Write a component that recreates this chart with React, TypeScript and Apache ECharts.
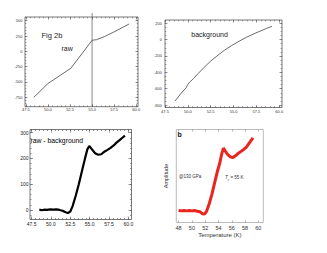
import React, { useEffect, useRef } from "react";
import * as echarts from "echarts";

// ---- data ----
const rawTemp = [48.4, 50.0, 52.6, 55.0, 55.5, 56.4, 57.4, 59.2];
const rawSignal = [-750, -525, -275, 180, 190, 240, 310, 447];
const tcMarker = [55];

const bgTemp = [48.6, 49.2, 49.8, 50.0, 50.2, 50.6, 51.1, 51.7, 52.5, 53.3, 54.0, 54.8, 55.6, 56.4, 57.2, 58.0, 58.6, 59.2];
const bgSignal = [-750, -665, -590, -548, -520, -478, -418, -348, -262, -190, -130, -72, -20, 28, 70, 108, 137, 162];

const diffTemp = [48.5, 48.8, 49.1, 49.5, 49.9, 50.3, 50.7, 51.1, 51.5, 51.9, 52.2, 52.5, 52.8, 53.2, 53.6, 54.0, 54.4, 54.7, 54.95, 55.3, 55.7, 56.1, 56.5, 56.9, 57.3, 57.7, 58.1, 58.5, 58.9, 59.3, 59.55];
const diffSignal = [2, -1, 1, 0, 2, 1, 2, 0, -3, -9, -12, -6, 15, 55, 100, 150, 200, 235, 248, 235, 220, 214, 216, 226, 233, 241, 250, 262, 272, 282, 288];

const ampTemp = [48.0, 48.4, 48.8, 49.2, 49.6, 50.0, 50.4, 50.8, 51.2, 51.6, 51.9, 52.2, 52.6, 53.0, 53.4, 53.8, 54.2, 54.5, 54.75, 55.0, 55.4, 55.8, 56.2, 56.6, 57.0, 57.4, 57.8, 58.2, 58.6, 59.0, 59.2];
const ampSignal = [0.13, 0.125, 0.13, 0.125, 0.13, 0.125, 0.13, 0.12, 0.115, 0.095, 0.09, 0.12, 0.2, 0.3, 0.42, 0.54, 0.64, 0.74, 0.8, 0.77, 0.73, 0.705, 0.7, 0.72, 0.745, 0.765, 0.785, 0.81, 0.85, 0.89, 0.91];

// tick labels
const tempTicksA = [47.5, 50.0, 52.5, 55.0, 57.5, 60.0];
const rawTicks = [-750, -500, -250, 0, 250, 500];
const bgTicks = [-800, -600, -400, -200, 0, 200];
const diffTicks = [0, 100, 200, 300];
const tempTicksB = [48, 50, 52, 54, 56, 58, 60];

const FONT = "'Liberation Sans', Arial, sans-serif";

function steps(a: number, b: number, s: number) {
  const out: number[] = [];
  for (let v = a; v <= b + 1e-9; v += s) out.push(Math.round(v * 1000) / 1000);
  return out;
}

function zip(a: number[], b: number[]) {
  return a.map((v, i) => [v, b[i]]);
}

type AxOpts = {
  min: number;
  max: number;
  major: number[];
  minor: number[];
  labels: boolean;
  fmt: (v: number) => string;
  fs: number;
  margin: number;
  tickColor: string;
  labelColor: string;
  ticks: boolean;
  oppTicks: boolean;
  majLen: number;
  minLen: number;
  extra?: any;
};

function axisSet(kind: "x" | "y", grid: number, o: AxOpts) {
  const isX = kind === "x";
  const base = {
    type: "value",
    gridIndex: grid,
    min: o.min,
    max: o.max,
    splitLine: { show: false },
    axisLine: { show: false, onZero: false },
  };
  const tick = (vals: number[], len: number, show: boolean) => ({
    show,
    inside: true,
    length: len,
    customValues: vals,
    lineStyle: { color: o.tickColor, width: 0.6 },
  });
  const noLabel = { show: false };
  const main = {
    ...base,
    position: isX ? "bottom" : "left",
    axisTick: tick(o.major, o.majLen, o.ticks),
    axisLabel: {
      show: o.labels,
      customValues: o.major,
      formatter: o.fmt,
      fontSize: o.fs,
      margin: o.margin,
      color: o.labelColor,
      fontFamily: FONT,
    },
    ...(o.extra || {}),
  };
  const minorAx = { ...base, position: isX ? "bottom" : "left", axisTick: tick(o.minor, o.minLen, o.ticks && o.minor.length > 0), axisLabel: noLabel };
  const opp = { ...base, position: isX ? "top" : "right", axisTick: tick(o.major, o.majLen, o.oppTicks), axisLabel: noLabel };
  const oppMinor = { ...base, position: isX ? "top" : "right", axisTick: tick(o.minor, o.minLen, o.oppTicks && o.minor.length > 0), axisLabel: noLabel };
  return [main, minorAx, opp, oppMinor];
}

export default function App() {
  const ref = useRef<HTMLDivElement>(null);
  useEffect(() => {
    if (!ref.current) return;
    const chart = echarts.init(ref.current, null, { renderer: "svg" });
    const dark = "#555";
    const fmt1 = (v: number) => v.toFixed(1);
    const fmt0 = (v: number) => String(Math.round(v));

    const xAxes = [
      ...axisSet("x", 0, { min: 47.4, max: 60.2, major: tempTicksA, minor: steps(47.5, 60, 0.5), labels: true, fmt: fmt1, fs: 4, margin: 1, tickColor: dark, labelColor: "#333", ticks: true, oppTicks: true, majLen: 2.5, minLen: 1.3 }),
      ...axisSet("x", 1, { min: 47.5, max: 60.3, major: tempTicksA, minor: steps(47.5, 60, 0.5), labels: true, fmt: fmt1, fs: 4, margin: 2, tickColor: dark, labelColor: "#333", ticks: true, oppTicks: true, majLen: 2.5, minLen: 1.3 }),
      ...axisSet("x", 2, { min: 47.3, max: 60.4, major: tempTicksA, minor: steps(47.5, 60, 0.5), labels: true, fmt: fmt1, fs: 5, margin: 2, tickColor: dark, labelColor: "#222", ticks: true, oppTicks: true, majLen: 3, minLen: 1.5 }),
      ...axisSet("x", 3, {
        min: 47.65, max: 60.75, major: tempTicksB, minor: [], labels: true, fmt: fmt0, fs: 5.5, margin: 2, tickColor: "#888", labelColor: "#333", ticks: true, oppTicks: true, majLen: 2, minLen: 1,
        extra: { name: "Temperature (K)", nameLocation: "middle", nameGap: 9, nameTextStyle: { fontSize: 6, fontFamily: FONT, color: "#333" } },
      }),
    ];
    const yAxes = [
      ...axisSet("y", 0, { min: -903, max: 560, major: rawTicks, minor: steps(-900, 550, 50), labels: true, fmt: fmt0, fs: 4, margin: 2.5, tickColor: dark, labelColor: "#333", ticks: true, oppTicks: true, majLen: 2.5, minLen: 1.3 }),
      ...axisSet("y", 1, { min: -830, max: 240, major: bgTicks, minor: steps(-800, 200, 50), labels: true, fmt: fmt0, fs: 4, margin: 3, tickColor: dark, labelColor: "#333", ticks: true, oppTicks: true, majLen: 2.5, minLen: 1.3 }),
      ...axisSet("y", 2, { min: -37, max: 312, major: diffTicks, minor: steps(-20, 300, 20), labels: true, fmt: fmt0, fs: 5, margin: 1.5, tickColor: dark, labelColor: "#222", ticks: true, oppTicks: true, majLen: 3, minLen: 1.5 }),
      ...axisSet("y", 3, {
        min: 0, max: 1, major: [], minor: [], labels: false, fmt: fmt0, fs: 5, margin: 2, tickColor: "#888", labelColor: "#333", ticks: false, oppTicks: false, majLen: 2, minLen: 1,
        extra: { name: "Amplitude", nameLocation: "middle", nameRotate: 90, nameGap: 7, nameTextStyle: { fontSize: 5.5, fontFamily: FONT, color: "#333" } },
      }),
    ];

    const option: any = {
      animation: false,
      backgroundColor: "#fff",
      grid: [
        { left: 25, top: 17, width: 113, height: 89.7, show: true, borderColor: dark, borderWidth: 0.8, backgroundColor: "transparent" },
        { left: 165, top: 20, width: 117, height: 87.5, show: true, borderColor: dark, borderWidth: 0.8, backgroundColor: "transparent" },
        { left: 30, top: 129.5, width: 101.5, height: 90, show: true, borderColor: dark, borderWidth: 0.8, backgroundColor: "transparent" },
        { left: 176.3, top: 129.5, width: 87, height: 93, show: true, borderColor: "#aaa", borderWidth: 0.8, backgroundColor: "transparent" },
      ],
      xAxis: xAxes,
      yAxis: yAxes,
      series: [
        {
          type: "line", xAxisIndex: 0, yAxisIndex: 0, data: zip(rawTemp, rawSignal), showSymbol: false,
          lineStyle: { color: "#444", width: 0.8 }, silent: true,
        },
        {
          type: "line", xAxisIndex: 0, yAxisIndex: 0, clip: false, showSymbol: false, silent: true,
          data: [[tcMarker[0], -903], [tcMarker[0], 625]],
          lineStyle: { color: "#555", width: 0.7 },
        },
        {
          type: "line", xAxisIndex: 4, yAxisIndex: 4, data: zip(bgTemp, bgSignal), showSymbol: false,
          lineStyle: { color: "#444", width: 0.8 }, silent: true,
        },
        {
          type: "line", xAxisIndex: 8, yAxisIndex: 8, data: zip(diffTemp, diffSignal), showSymbol: false,
          lineStyle: { color: "#000", width: 2.2 }, silent: true,
        },
        {
          type: "line", xAxisIndex: 12, yAxisIndex: 12, data: zip(ampTemp, ampSignal), showSymbol: false,
          lineStyle: { color: "#e8251f", width: 3 }, silent: true,
        },
      ],
      graphic: [
        { type: "text", x: 41.5, y: 35, style: { text: "Fig 2b", fontSize: 7.5, fontFamily: FONT, fill: "#222", textVerticalAlign: "middle" } },
        { type: "text", x: 61.5, y: 48.3, style: { text: "raw", fontSize: 7, fontFamily: FONT, fill: "#222", textVerticalAlign: "middle" } },
        { type: "text", x: 191.3, y: 34, style: { text: "background", fontSize: 7, fontFamily: FONT, fill: "#222", textVerticalAlign: "middle" } },
        { type: "text", x: 30.5, y: 140.7, style: { text: "raw - background", fontSize: 6.8, fontFamily: FONT, fill: "#000", textVerticalAlign: "middle" } },
        { type: "text", x: 177.5, y: 134, style: { text: "b", fontSize: 7, fontWeight: "bold", fontFamily: FONT, fill: "#111", textVerticalAlign: "middle" } },
        { type: "text", x: 179, y: 176, style: { text: "@130 GPa", fontSize: 4.5, fontFamily: FONT, fill: "#333", textVerticalAlign: "middle" } },
        {
          type: "text", x: 225, y: 177.7,
          style: {
            text: "{i|T}{s|c}{n| = 55 K}", fontFamily: FONT, fill: "#333", textVerticalAlign: "middle",
            rich: {
              i: { fontStyle: "italic", fontSize: 4.5, fontFamily: FONT, fill: "#333" },
              s: { fontSize: 3, fontFamily: FONT, fill: "#333", padding: [3, 0, 0, 0] },
              n: { fontSize: 4.5, fontFamily: FONT, fill: "#333" },
            },
          },
        },
      ],
    };
    chart.setOption(option);
    return () => chart.dispose();
  }, []);
  return (
    <div
      ref={ref}
      style={{ position: "fixed", left: 0, top: 0, width: 327, height: 253, background: "#fff" }}
    />
  );
}
